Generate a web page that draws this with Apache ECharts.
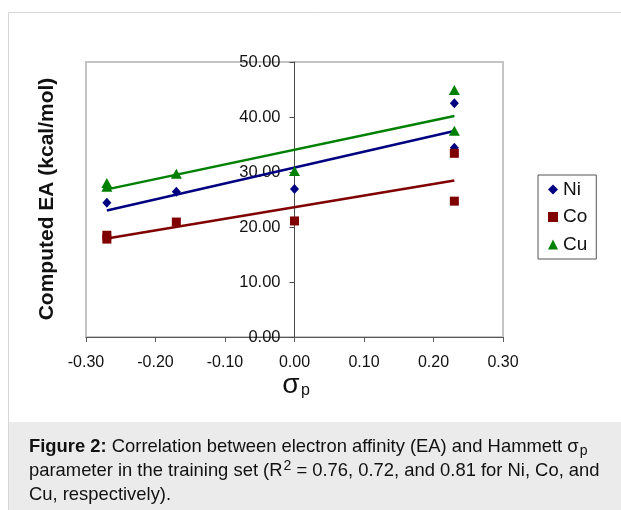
<!DOCTYPE html>
<html>
<head>
<meta charset="utf-8">
<script src="https://cdn.jsdelivr.net/npm/echarts@6/dist/echarts.min.js"></script>
<style>
html,body{margin:0;padding:0;background:#fff;}
#chart{width:621px;height:510px;}
</style>
</head>
<body>
<div id="chart"></div>
<script>
// ---- data ----
const seriesNames = ['Ni', 'Co', 'Cu'];
const niSigma = [-0.27, -0.17, 0.00, 0.23, 0.23];
const niEA    = [24.4, 26.4, 26.9, 42.5, 34.4];
const coSigma = [-0.27, -0.27, -0.17, 0.00, 0.23, 0.23];
const coEA    = [18.5, 17.8, 20.9, 21.1, 33.4, 24.7];
const cuSigma = [-0.27, -0.27, -0.17, 0.00, 0.23, 0.23];
const cuEA    = [28.0, 27.3, 29.7, 30.2, 44.9, 37.5];
const colors  = ['#000080', '#800000', '#008000'];
const symbols = ['diamond', 'rect', 'triangle'];
const xMin = -0.3, xMax = 0.3, xStep = 0.1;
const yMin = 0, yMax = 50, yStep = 10;
const yTitle = 'Computed EA (kcal/mol)';
const captionBold = 'Figure 2:';

const FONT = "'Liberation Sans', Arial, sans-serif";
const GRID = { left: 86, right: 118, top: 62, bottom: 173 };
const PLOT_W = 621 - GRID.left - GRID.right;

function pairs(xs, ys) { return xs.map((x, i) => [x, ys[i]]); }
// least-squares linear trendline spanning the data range
function trend(xs, ys) {
  const n = xs.length;
  const mx = xs.reduce((a, b) => a + b, 0) / n;
  const my = ys.reduce((a, b) => a + b, 0) / n;
  let sxx = 0, sxy = 0;
  for (let i = 0; i < n; i++) { sxx += (xs[i] - mx) ** 2; sxy += (xs[i] - mx) * (ys[i] - my); }
  const b = sxy / sxx, a = my - b * mx;
  const x0 = Math.min(...xs), x1 = Math.max(...xs);
  return [[x0, a + b * x0], [x1, a + b * x1]];
}

const xs = [niSigma, coSigma, cuSigma];
const ys = [niEA, coEA, cuEA];
const symSizes = [[9, 10], [9, 9], [11, 10]];

const series = [];
seriesNames.forEach((name, i) => {
  series.push({
    name: name + ' trend', type: 'line', data: trend(xs[i], ys[i]),
    showSymbol: false, symbol: 'none', silent: true, z: 2,
    lineStyle: { color: colors[i], width: 2.5 }, itemStyle: { color: colors[i] }
  });
});
seriesNames.forEach((name, i) => {
  series.push({
    name: name, type: 'scatter', data: pairs(xs[i], ys[i]),
    symbol: symbols[i], symbolSize: symSizes[i], z: 3,
    itemStyle: { color: colors[i], opacity: 1 }
  });
});

// the y axis crosses the x axis at sigma = 0
const yAxisOffset = -PLOT_W * (0 - xMin) / (xMax - xMin);

const chart = echarts.init(document.getElementById('chart'), null, { renderer: 'canvas' });
chart.setOption({
  animation: false,
  backgroundColor: '#fff',
  textStyle: { fontFamily: FONT },
  grid: Object.assign({
    show: true, borderColor: '#c4c4c4', borderWidth: 2, backgroundColor: 'transparent',
    containLabel: false, outerBoundsMode: 'none'
  }, GRID),
  xAxis: {
    type: 'value', min: xMin, max: xMax, interval: xStep,
    axisLine: { show: true, onZero: true, lineStyle: { color: '#5a5a5a', width: 1 } },
    axisTick: { show: true, inside: false, length: 5, lineStyle: { color: '#5a5a5a' } },
    axisLabel: { fontSize: 16, color: '#111', margin: 18, fontFamily: FONT,
      formatter: v => (Math.abs(v) < 1e-9 ? 0 : v).toFixed(2), showMinLabel: true, showMaxLabel: true },
    splitLine: { show: false }
  },
  yAxis: {
    type: 'value', min: yMin, max: yMax, interval: yStep, position: 'left', offset: yAxisOffset,
    axisLine: { show: true, onZero: false, lineStyle: { color: '#4a4a4a', width: 1 } },
    axisTick: { show: true, inside: false, length: 5, lineStyle: { color: '#4a4a4a' } },
    axisLabel: { fontSize: 16.5, color: '#111', margin: 14, fontFamily: FONT,
      formatter: v => v.toFixed(2), showMinLabel: true, showMaxLabel: true },
    splitLine: { show: false }
  },
  legend: {
    data: seriesNames, orient: 'vertical', left: 538, top: 175,
    padding: [5, 9, 5, 10], itemGap: 8.5, itemWidth: 10, itemHeight: 10, itemTextGap: 8,
    borderColor: '#555', borderWidth: 1, backgroundColor: '#fff',
    textStyle: { fontSize: 19, color: '#111', fontFamily: FONT },
    selectedMode: false
  },
  graphic: [
    { type: 'rect', z: -10, shape: { x: 8.5, y: 12.5, width: 700, height: 600 },
      style: { fill: '#fff', stroke: '#d6d6d6', lineWidth: 1 } },
    { type: 'rect', z: -9, shape: { x: 9, y: 422, width: 620, height: 90 },
      style: { fill: '#ebebeb' } },
    { type: 'text', z: 10, x: 47, y: 199, rotation: Math.PI / 2,
      style: { text: yTitle, font: "bold 21px " + FONT, fill: '#111',
        align: 'center', verticalAlign: 'middle' } },
    { type: 'text', z: 10, x: 291, y: 385,
      style: { text: 'σ', font: "28px " + FONT, fill: '#111', align: 'center', verticalAlign: 'middle' } },
    { type: 'text', z: 10, x: 301, y: 391,
      style: { text: 'p', font: "16px " + FONT, fill: '#111', align: 'left', verticalAlign: 'middle' } },
    { type: 'text', z: 10, x: 29, y: 435,
      style: {
        text: '{b|' + captionBold + '}{t| Correlation between electron affinity (EA) and Hammett σ}{sub|p}\n' +
              '{t|parameter in the training set (R}{sup|2}{t| = 0.76, 0.72, and 0.81 for Ni, Co, and}\n' +
              '{t|Cu, respectively).}',
        fill: '#111', align: 'left', verticalAlign: 'top',
        rich: {
          b: { fontFamily: FONT, fontSize: 18.4, fontWeight: 'bold', lineHeight: 24, fill: '#111' },
          t: { fontFamily: FONT, fontSize: 18.4, lineHeight: 24, fill: '#111' },
          sub: { fontFamily: FONT, fontSize: 14, lineHeight: 24, padding: [9, 0, 0, 1], fill: '#111' },
          sup: { fontFamily: FONT, fontSize: 14, lineHeight: 24, padding: [0, 0, 10, 1], fill: '#111' }
        }
      } }
  ],
  series: series
});
</script>
</body>
</html>
